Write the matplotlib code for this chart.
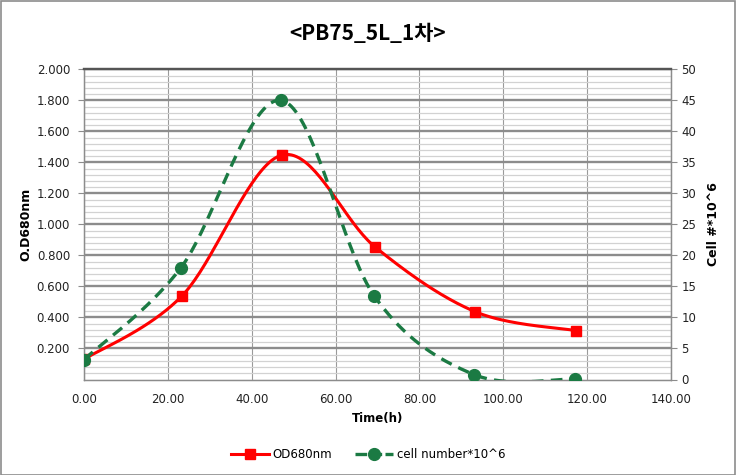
import numpy as np
import matplotlib
matplotlib.use("Agg")
import matplotlib.pyplot as plt
from matplotlib.patches import Rectangle
from matplotlib.lines import Line2D

# data
time_od = [0.0, 23.4, 47.2, 69.4, 93.3, 117.3]
od680 = [0.130, 0.540, 1.447, 0.855, 0.437, 0.315]
time_cell = [0.0, 23.1, 47.0, 69.2, 93.0, 117.1]
cell_num = [3.2, 18.0, 45.0, 13.5, 0.8, 0.1]

x_ticks = [0, 20, 40, 60, 80, 100, 120, 140]
x_ticklabels = ["%.2f" % v for v in x_ticks]
od_ticks = [0.2, 0.4, 0.6, 0.8, 1.0, 1.2, 1.4, 1.6, 1.8, 2.0]
od_ticklabels = ["%.3f" % v for v in od_ticks]
cell_ticks = [0, 5, 10, 15, 20, 25, 30, 35, 40, 45, 50]

red = "#ff0000"
green = "#1b7a43"


def smooth(xs, ys, n=40):
    # excel-like smoothed line (bezier through the points)
    p = np.column_stack([xs, ys]).astype(float)
    ext = np.vstack([p[0], p, p[-1]])
    out = []
    t = np.linspace(0, 1, n)[:, None]
    for i in range(len(p) - 1):
        p0, p3 = p[i], p[i + 1]
        c1 = p0 + (ext[i + 2] - ext[i]) / 6.0
        c2 = p3 - (ext[i + 3] - ext[i + 1]) / 6.0
        seg = (1 - t) ** 3 * p0 + 3 * (1 - t) ** 2 * t * c1 + 3 * (1 - t) * t ** 2 * c2 + t ** 3 * p3
        out.append(seg)
    out = np.vstack(out)
    return out[:, 0], out[:, 1]


fig = plt.figure(figsize=(7.36, 4.75), dpi=100)
ax = fig.add_axes([84 / 736, 1 - 379.5 / 475, (671 - 84) / 736, (379.5 - 69.3) / 475])
ax2 = ax.twinx()

ax.set_xlim(0, 140)
ax.set_ylim(0, 2.0)
ax2.set_ylim(0, 50)

# grid
ax.set_yticks(np.arange(0, 2.0001, 0.04), minor=True)
ax.grid(True, which="minor", axis="y", color="#d2d2d2", lw=0.9)
ax.grid(True, which="major", axis="y", color="#8c8c8c", lw=1.7)
ax.grid(True, which="major", axis="x", color="#9a9a9a", lw=0.8)
ax.set_axisbelow(True)

ax.set_xticks(x_ticks)
ax.set_xticklabels(x_ticklabels)
ax.set_yticks(od_ticks)
ax.set_yticklabels(od_ticklabels)
ax2.set_yticks(cell_ticks)

ax.tick_params(axis="x", length=0, pad=10, labelsize=8.5, colors="#222222")
ax.tick_params(axis="y", which="major", length=4, color="#8c8c8c", labelsize=8.5, pad=6, labelcolor="#222222")
ax.tick_params(axis="y", which="minor", length=0)
ax2.tick_params(axis="y", length=4, color="#8c8c8c", labelsize=8.5, labelcolor="#222222")

for a in (ax, ax2):
    for s in a.spines.values():
        s.set_color("#8c8c8c")
        s.set_linewidth(0.9)
    a.spines["top"].set_color("#555555")
    a.spines["top"].set_linewidth(1.6)

xs, ys = smooth(time_od, od680)
ax.plot(xs, ys, color=red, lw=2.2, zorder=3)
ax.plot(time_od, od680, "s", color=red, ms=7, zorder=4)

xs2, ys2 = smooth(time_cell, cell_num)
ax2.plot(xs2, ys2, color=green, lw=2.4, dashes=(3.5, 2.2), zorder=3)
ax2.plot(time_cell, cell_num, "o", color=green, ms=8.5, zorder=4)

ax.set_xlabel("Time(h)", fontsize=8.5, fontweight="bold", labelpad=4)
ax.set_ylabel("O.D680nm", fontsize=9, fontweight="bold", labelpad=3)
ax2.set_ylabel("Cell #*10^6", fontsize=9, fontweight="bold", labelpad=8)

fig.text(0.5, 0.93, "<PB75_5L_1차>", ha="center", va="center", fontsize=15,
         fontweight="bold", family=["Noto Sans CJK KR", "DejaVu Sans"])

handles = [
    Line2D([], [], color=red, lw=2.2, marker="s", ms=7),
    Line2D([], [], color=green, lw=2.4, marker="o", ms=8.5, dashes=(3.5, 1)),
]
fig.legend(handles, ["OD680nm", "cell number*10^6"], loc="center",
           bbox_to_anchor=(0.5, 1 - 455 / 475), ncol=2, frameon=False,
           fontsize=8.5, handlelength=3.2, columnspacing=2.0, handletextpad=0.3)

fig.patches.append(Rectangle((0.001, 0.001), 0.997, 0.997, transform=fig.transFigure,
                             fill=False, edgecolor="#8c8c8c", lw=1.2))

fig.savefig("out.png", dpi=100)
